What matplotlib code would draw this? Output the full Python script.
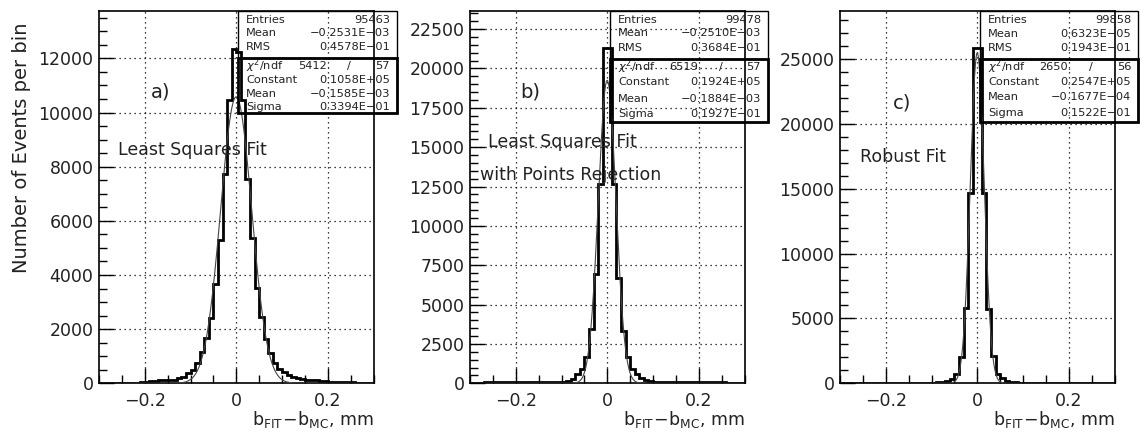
import numpy as np
import matplotlib
matplotlib.use("Agg")
import matplotlib.pyplot as plt
from matplotlib.ticker import MultipleLocator
from matplotlib.patches import Rectangle

plt.rcParams['font.family'] = ['DejaVu Sans']
plt.rcParams['mathtext.fontset'] = 'dejavusans'
plt.rcParams['text.color'] = '#222222'

W, H = 1140, 433

# histogram bins (60 bins of 0.01 mm from -0.3 to 0.3)
bin_edges = np.linspace(-0.3, 0.3, 61)

counts_a = [10, 12, 14, 15, 18, 20, 22, 25, 28, 32,
            50, 70, 90, 110, 125, 130, 140, 185, 245, 370,
            490, 740, 1140, 1660, 2420, 3650, 5300, 7730, 10450, 12350,
            12250, 10450, 7540, 5350, 3510, 2460, 1640, 1130, 760, 520,
            400, 300, 230, 190, 160, 140, 120, 110, 95, 80,
            60, 50, 45, 40, 35, 30, 28, 25, 20, 15]
counts_b = [40, 45, 50, 55, 60, 60, 65, 70, 80, 90,
            100, 110, 100, 90, 85, 80, 80, 85, 90, 80,
            100, 150, 300, 575, 935, 1680, 3480, 6950, 12650, 21300,
            21300, 12650, 6700, 3300, 1680, 930, 560, 330, 190, 120,
            90, 85, 80, 85, 90, 95, 105, 110, 100, 90,
            80, 75, 70, 65, 60, 55, 50, 45, 40, 35]
counts_c = [5, 5, 6, 6, 7, 8, 8, 9, 10, 10,
            11, 12, 12, 13, 14, 15, 16, 18, 25, 40,
            50, 70, 110, 180, 310, 720, 2050, 5830, 14650, 25830,
            25830, 14650, 5700, 2080, 720, 380, 180, 110, 70, 50,
            40, 25, 18, 16, 15, 14, 13, 12, 12, 11,
            10, 10, 9, 8, 8, 7, 6, 6, 5, 5]

# gaussian fit results (Constant, Mean, Sigma)
fit_a = (0.1058e5, -0.1585e-3, 0.3394e-1)
fit_b = (0.1924e5, -0.1884e-3, 0.1927e-1)
fit_c = (0.2547e5, -0.1677e-4, 0.1522e-1)

stat_labels = ['Entries', 'Mean', 'RMS']
fit_labels = ['Constant', 'Mean', 'Sigma']
stats_a = ['95463', '\u22120.2531E\u221203', '0.4578E\u221201']
stats_b = ['99478', '\u22120.2510E\u221203', '0.3684E\u221201']
stats_c = ['99858', '0.6323E\u221205', '0.1943E\u221201']
chi2_a = ('5412.', '57')
chi2_b = ('6519.', '57')
chi2_c = ('2650.', '56')
pars_a = ['0.1058E+05', '\u22120.1585E\u221203', '0.3394E\u221201']
pars_b = ['0.1924E+05', '\u22120.1884E\u221203', '0.1927E\u221201']
pars_c = ['0.2547E+05', '\u22120.1677E\u221204', '0.1522E\u221201']

ymax = [13750, 23650, 28700]
ymajor = [2000, 2500, 5000]
xticks = [-0.2, 0, 0.2]
xticklabels = ['\u22120.2', '0', '0.2']

panel_tags = ['a)', 'b)', 'c)']
panel_notes = [['Least Squares Fit'],
               ['Least Squares Fit', 'with Points Rejection'],
               ['Robust Fit']]

# pixel layout
AX_LEFT = [99, 470, 840]
AX_W = 274.5
AX_TOP, AX_BOT = 11, 383.3
BOX_X = [(238, 397), (610, 768), (980, 1138)]
BOX_Y = [(11, 58.3, 112.7), (11, 59, 121.7), (11, 59, 121.7)]
ROW_Y = [[20, 33.5, 47, 66, 80, 94, 107],
         [20, 33.5, 48, 67, 82, 99, 114],
         [20, 34, 48, 67, 82, 97, 113]]
TAG_POS = [(161, 92), (530, 92), (902, 103)]
NOTE_POS = [[(118, 150)], [(488, 142), (480, 175)], [(860, 157)]]
BOX_FS = 8.2


def fx(px):
    return px / W


def fy(py):
    return 1 - py / H


def draw_box(fig, k, stats, chi2, pars):
    x0, x1 = BOX_X[k]
    top, mid, bot = BOX_Y[k]
    fig.patches.append(Rectangle((fx(x0), fy(mid)), fx(x1 - x0), (mid - top) / H,
                                 transform=fig.transFigure, fill=False,
                                 lw=1.0, ec='black', zorder=5))
    fig.patches.append(Rectangle((fx(x0), fy(bot)), fx(x1 - x0), (bot - mid) / H,
                                 transform=fig.transFigure, fill=False,
                                 lw=2.0, ec='black', zorder=5))
    rows = ROW_Y[k]
    lx = x0 + 8
    rx = x1 - 7
    for i in range(3):
        fig.text(fx(lx), fy(rows[i]), stat_labels[i], fontsize=BOX_FS, va='center', ha='left')
        fig.text(fx(rx), fy(rows[i]), stats[i], fontsize=BOX_FS, va='center', ha='right')
    fig.text(fx(lx), fy(rows[3]), r'$\chi^2$/ndf', fontsize=BOX_FS, va='center', ha='left')
    fig.text(fx(x0 + 0.58 * (x1 - x0)), fy(rows[3]), chi2[0], fontsize=BOX_FS, va='center', ha='right')
    fig.text(fx(x0 + 0.70 * (x1 - x0)), fy(rows[3]), '/', fontsize=BOX_FS, va='center', ha='center')
    fig.text(fx(rx), fy(rows[3]), chi2[1], fontsize=BOX_FS, va='center', ha='right')
    for i in range(3):
        fig.text(fx(lx), fy(rows[4 + i]), fit_labels[i], fontsize=BOX_FS, va='center', ha='left')
        fig.text(fx(rx), fy(rows[4 + i]), pars[i], fontsize=BOX_FS, va='center', ha='right')


fig = plt.figure(figsize=(W / 100, H / 100), dpi=100)

all_counts = [counts_a, counts_b, counts_c]
all_fits = [fit_a, fit_b, fit_c]
all_stats = [stats_a, stats_b, stats_c]
all_chi2 = [chi2_a, chi2_b, chi2_c]
all_pars = [pars_a, pars_b, pars_c]

xfine = np.linspace(-0.3, 0.3, 1201)

for k in range(3):
    ax = fig.add_axes([fx(AX_LEFT[k]), fy(AX_BOT), fx(AX_W), (AX_BOT - AX_TOP) / H])
    ax.stairs(all_counts[k], bin_edges, color='black', lw=2.0, zorder=3)
    c, m, s = all_fits[k]
    ax.plot(xfine, c * np.exp(-0.5 * ((xfine - m) / s) ** 2), color='#444444', lw=0.8, zorder=4)

    ax.set_xlim(-0.3, 0.3)
    ax.set_ylim(0, ymax[k])
    ax.set_xticks(xticks)
    ax.set_xticklabels(xticklabels)
    ax.xaxis.set_minor_locator(MultipleLocator(0.05))
    ax.yaxis.set_major_locator(MultipleLocator(ymajor[k]))
    ax.yaxis.set_minor_locator(MultipleLocator(ymajor[k] / (4 if k == 0 else 5)))
    ax.tick_params(which='both', direction='in', top=False, right=False,
                   labelsize=12.5, colors='black', labelcolor='#222222')
    ax.tick_params(which='major', length=11, width=1.0)
    ax.tick_params(which='minor', length=6, width=1.0)
    ax.tick_params(axis='x', pad=6.5)
    ax.tick_params(axis='y', pad=4)
    ax.grid(True, which='major', color='black', lw=0.9, ls=(0, (1, 3)))
    ax.set_axisbelow(False)
    for sp in ax.spines.values():
        sp.set_linewidth(1.2)

    # x title sits under the right tick label, like the ROOT layout
    ax.text(1.0, (AX_BOT - 425) / (AX_BOT - AX_TOP),
            r'$\mathregular{b_{FIT}\!-\!b_{MC}}$, mm',
            transform=ax.transAxes, ha='right', va='baseline', fontsize=12.5)

    draw_box(fig, k, all_stats[k], all_chi2[k], all_pars[k])

    tx, ty = TAG_POS[k]
    fig.text(fx(tx), fy(ty), panel_tags[k], fontsize=14, ha='center', va='center')
    for note, (nx, ny) in zip(panel_notes[k], NOTE_POS[k]):
        fig.text(fx(nx), fy(ny), note, fontsize=12.5, ha='left', va='center')

fig.text(fx(22), fy(148), 'Number of Events per bin', rotation=90,
         ha='center', va='center', fontsize=14)

fig.savefig('out.png', dpi=100)
